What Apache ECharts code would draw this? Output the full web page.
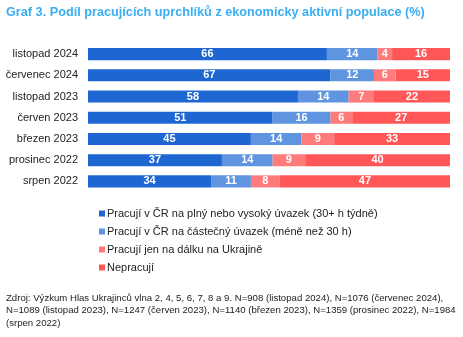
<!DOCTYPE html>
<html>
<head>
<meta charset="utf-8">
<script src="https://cdn.jsdelivr.net/npm/echarts@6/dist/echarts.min.js"></script>
<style>
html,body{margin:0;padding:0;background:#fff;}
#chart{width:463px;height:337px;}
</style>
</head>
<body>
<div id="chart"></div>
<script>
// Survey waves, top to bottom
const categories = ['listopad 2024', 'červenec 2024', 'listopad 2023', 'červen 2023', 'březen 2023', 'prosinec 2022', 'srpen 2022'];
const seriesNames = [
  'Pracují v ČR na plný nebo vysoký úvazek (30+ h týdně)',
  'Pracují v ČR na částečný úvazek (méně než 30 h)',
  'Pracují jen na dálku na Ukrajině',
  'Nepracují'
];
const fullTime = [66, 67, 58, 51, 45, 37, 34];
const partTime = [14, 12, 14, 16, 14, 14, 11];
const remoteUA = [4, 6, 7, 6, 9, 9, 8];
const notWorking = [16, 15, 22, 27, 33, 40, 47];
const colors = ['#1e67d2', '#5e94e0', '#ff7a7a', '#ff5757'];

const values = [fullTime, partTime, remoteUA, notWorking];
const font = 'Liberation Sans, Arial, sans-serif';

const chart = echarts.init(document.getElementById('chart'), null, {renderer: 'canvas'});
chart.setOption({
  animation: false,
  title: {
    text: 'Graf 3. Podíl pracujících uprchlíků z ekonomicky aktivní populace (%)',
    left: 6, top: 6, padding: 0,
    textStyle: {color: '#3aaef2', fontSize: 12.7, fontWeight: 'bold', fontFamily: font}
  },
  graphic: [{
    type: 'text', left: 6, top: 292,
    style: {
      text: 'Zdroj: Výzkum Hlas Ukrajinců vlna 2, 4, 5, 6, 7, 8 a 9. N=908 (listopad 2024), N=1076 (červenec 2024),\nN=1089 (listopad 2023), N=1247 (červen 2023), N=1140 (březen 2023), N=1359 (prosinec 2022), N=1984\n(srpen 2022)',
      fill: '#222', font: '9.6px ' + font, lineHeight: 12.5
    }
  }],
  legend: {
    orient: 'vertical', left: 94, top: 203,
    itemWidth: 6, itemHeight: 6, itemGap: 7, icon: 'rect',
    textStyle: {color: '#222', fontSize: 11, fontFamily: font, padding: [0, 0, 0, -3]},
    data: seriesNames
  },
  grid: {left: 88, right: 13, top: 43.5, height: 148.5, containLabel: false},
  xAxis: {type: 'value', min: 0, max: 100, show: false},
  yAxis: {
    type: 'category', data: categories, inverse: true,
    axisLine: {show: false}, axisTick: {show: false},
    axisLabel: {color: '#222', fontSize: 11, fontFamily: font, margin: 10}
  },
  series: seriesNames.map((name, i) => ({
    name, type: 'bar', stack: 'total', data: values[i],
    barCategoryGap: '43%',
    itemStyle: {color: colors[i]},
    label: {show: true, position: 'inside', color: '#fff', fontWeight: 'bold', fontSize: 11, fontFamily: font}
  }))
});
</script>
</body>
</html>
